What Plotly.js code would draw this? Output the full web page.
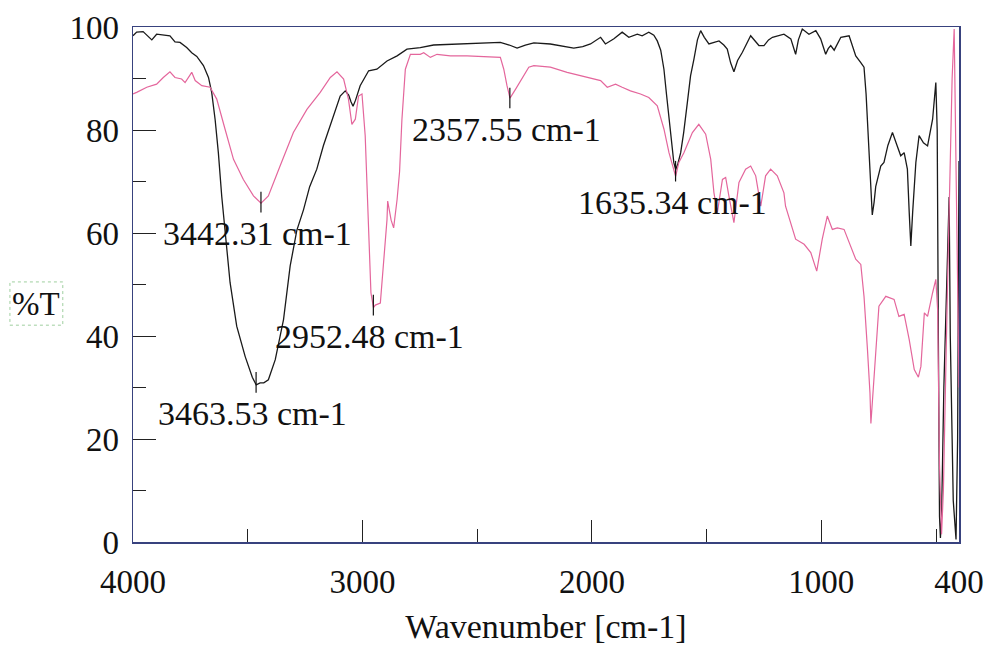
<!DOCTYPE html>
<html>
<head>
<meta charset="utf-8">
<script src="https://cdn.plot.ly/plotly-3.0.1.min.js"></script>
<style>html,body{margin:0;padding:0;background:#fff;}#chart{width:988px;height:645px;}</style>
</head>
<body>
<div id="chart"></div>
<script>
// Black spectrum (wavenumber, %T)
const blackWave = [4000,3984,3956,3918,3897,3868,3839,3817,3795,3766,3744,3722,3693,3671,3657,3642,3628,3613,3599,3577,3548,3511,3480,3463,3446,3430,3410,3380,3344,3315,3286,3257,3230,3199,3170,3140,3097,3075,3060,3050,3041,3030,3010,2973,2937,2893,2849,2806,2748,2690,2550,2399,2360,2326,2290,2253,2181,2120,2079,2040,2006,1962,1941,1904,1868,1839,1802,1781,1752,1730,1715,1700,1686,1675,1664,1650,1643,1635,1625,1613,1600,1584,1570,1555,1540,1526,1510,1490,1446,1425,1410,1395,1381,1365,1344,1308,1285,1272,1250,1230,1213,1163,1133,1120,1112,1100,1083,1054,1024,1003,981,970,959,944,915,879,850,828,814,805,799,790,784,778,770,763,741,727,710,690,670,654,639,625,617,610,602,588,574,555,537,515,501,495,490,485,481,476,466,450,443,438,425,413,406,400];
const blackT = [98.3,99.0,99.1,97.5,98.6,98.4,98.3,97.1,97.0,96.0,95.0,94.3,92.5,90.2,87.3,82.0,75.6,67.0,60.0,50.4,41.9,36.0,32.0,30.5,30.9,30.9,31.5,35.4,43.2,53.6,60.5,64.5,69.0,72.4,77.0,80.8,86.6,87.6,86.8,85.5,84.6,85.8,88.6,91.5,91.8,93.4,94.4,95.7,96.0,96.5,96.8,97.0,96.5,95.9,96.5,96.9,96.7,96.2,95.9,96.2,96.7,98.0,96.7,97.7,99.0,98.0,98.6,98.3,99.0,98.4,97.3,95.5,91.8,87.0,82.1,76.0,73.7,72.3,73.5,75.6,79.5,85.3,90.5,93.8,97.5,99.3,98.0,96.7,97.3,96.5,95.7,93.0,91.3,93.5,95.1,98.3,97.2,96.4,96.4,97.5,98.0,98.6,97.7,96.0,94.7,97.5,99.6,98.6,99.3,97.7,94.7,95.8,96.4,95.5,98.0,98.3,94.4,93.1,92.2,87.0,82.1,75.0,69.1,63.5,66.0,69.0,73.0,73.7,77.0,79.5,77.0,75.0,75.6,72.4,64.0,57.5,64.0,73.7,78.9,77.5,76.9,82.1,89.2,80.0,40.0,5.0,0.8,5.0,30.0,60.0,67.0,40.0,8.0,0.5,20.0,74.0];

// Pink spectrum (wavenumber, %T)
const pinkWave = [4000,3984,3940,3897,3868,3839,3817,3788,3773,3744,3729,3700,3664,3635,3599,3562,3519,3475,3442,3410,3359,3301,3242,3184,3140,3111,3082,3061,3046,3031,3017,3002,2988,2973,2963,2952,2944,2922,2908,2893,2890,2875,2864,2849,2838,2828,2813,2791,2748,2733,2704,2675,2617,2544,2399,2384,2370,2357,2333,2297,2275,2253,2181,2108,2021,1962,1933,1897,1868,1832,1788,1752,1715,1686,1664,1643,1635,1621,1599,1562,1534,1504,1482,1468,1453,1431,1417,1403,1381,1359,1330,1308,1286,1264,1243,1221,1192,1163,1156,1112,1075,1046,1020,996,974,952,930,901,872,850,828,814,799,788,784,778,763,749,719,683,662,639,617,595,577,566,551,537,515,501,493,485,476,468,450,430,421,412,400];
const pinkT = [87.0,87.3,88.3,88.9,90.2,91.3,90.2,89.9,89.2,91.2,89.6,88.6,88.3,86.0,80.2,74.3,70.4,67.2,65.8,67.2,73.0,79.5,84.0,87.3,90.2,91.3,89.9,86.0,81.1,82.1,86.6,87.0,78.9,62.6,48.4,45.5,46.0,46.4,53.6,62.6,66.2,62.5,61.0,66.5,72.0,82.0,91.8,94.7,94.7,95.0,94.1,94.7,94.4,94.4,94.1,91.8,88.6,86.2,87.9,90.5,92.2,92.5,92.2,91.2,90.2,89.6,88.3,88.9,88.3,87.6,87.0,86.3,84.7,80.2,75.6,72.0,71.0,73.7,75.6,79.5,81.1,79.2,74.3,67.8,64.0,70.4,70.8,67.2,62.0,69.8,72.4,73.0,71.1,65.2,71.1,72.4,71.1,67.8,65.2,58.8,57.8,56.2,52.6,58.8,63.3,60.7,61.0,60.7,57.5,54.9,53.9,47.7,37.4,28.9,23.0,27.0,36.0,45.8,47.7,47.1,43.8,44.2,39.3,33.5,32.0,34.1,44.5,43.8,48.4,51.0,45.0,15.0,1.5,10.0,50.0,90.0,99.6,70.0,30.0];

// Labelled peaks
const peakWave = [3442.31, 3463.53, 2952.48, 2357.55, 1635.34];
const peakT = [66.0, 31.0, 46.0, 86.2, 72.0];
const peakLabels = ['3442.31 cm-1', '3463.53 cm-1', '2952.48 cm-1', '2357.55 cm-1', '1635.34 cm-1'];

// Axis ticks
const xTickVals = [4000, 3000, 2000, 1000, 400];
const xTickText = ['4000', '3000', '2000', '1000', '400'];
const xMinorVals = [3500, 2500, 1500, 500];
const yTickVals = [0, 20, 40, 60, 80, 100];
const yMinorVals = [10, 30, 50, 70, 90];

const FONT = 'Liberation Serif, Times New Roman, serif';
const frame = '#38427e';

const traces = [
  {x: blackWave, y: blackT, type: 'scatter', mode: 'lines', line: {color: '#1a1a1a', width: 1.3}, hoverinfo: 'skip'},
  {x: pinkWave, y: pinkT, type: 'scatter', mode: 'lines', line: {color: '#e4669c', width: 1.2}, hoverinfo: 'skip'}
];

const shapes = peakWave.map((w, i) => ({
  type: 'line', xref: 'x', yref: 'y', x0: w, x1: w, y0: peakT[i] - 2, y1: peakT[i] + 2,
  line: {color: '#111', width: 1.2}
}));
shapes.push({type: 'rect', xref: 'paper', yref: 'paper', x0: -0.149, x1: -0.085, y0: 0.421, y1: 0.505,
  line: {color: '#9fcf9f', width: 1, dash: 'dot'}});

const annotations = peakWave.map((w, i) => ({
  x: w, y: peakT[i], xref: 'x', yref: 'y', text: peakLabels[i], showarrow: false,
  xanchor: 'left', yanchor: 'middle', xshift: -100, yshift: -31,
  font: {family: FONT, size: 34, color: '#111'}
}));
annotations.push({x: -0.117, y: 0.463, xref: 'paper', yref: 'paper', text: '%T', showarrow: false,
  xanchor: 'center', yanchor: 'middle', font: {family: FONT, size: 33, color: '#111'}});

const layout = {
  width: 988, height: 645,
  margin: {l: 133, r: 29, t: 27, b: 103},
  paper_bgcolor: '#fff', plot_bgcolor: '#fff',
  showlegend: false,
  font: {family: FONT, size: 33, color: '#111'},
  xaxis: {
    range: [4000, 400], autorange: false,
    tickmode: 'array', tickvals: xTickVals, ticktext: xTickText,
    ticks: 'inside', ticklen: 22, tickwidth: 1, tickcolor: '#222',
    minor: {tickmode: 'array', tickvals: xMinorVals, ticks: 'inside', ticklen: 13, tickwidth: 1, tickcolor: '#222', showgrid: false},
    showgrid: false, zeroline: false,
    showline: true, mirror: true, linecolor: frame, linewidth: 1.5,
    tickfont: {family: FONT, size: 33, color: '#111'},
    ticklabelstandoff: 10,
    title: {text: 'Wavenumber [cm-1]', font: {family: FONT, size: 34, color: '#111'}, standoff: 15}
  },
  yaxis: {
    range: [0, 100], autorange: false,
    tickmode: 'array', tickvals: yTickVals,
    ticks: 'inside', ticklen: 23, tickwidth: 1, tickcolor: '#222',
    minor: {tickmode: 'array', tickvals: yMinorVals, ticks: 'inside', ticklen: 13, tickwidth: 1, tickcolor: '#222', showgrid: false},
    showgrid: false, zeroline: false,
    showline: true, mirror: true, linecolor: frame, linewidth: 1.5,
    tickfont: {family: FONT, size: 33, color: '#111'},
    ticklabelstandoff: 6
  },
  shapes: shapes,
  annotations: annotations
};

Plotly.newPlot('chart', traces, layout, {staticPlot: true, displayModeBar: false});
</script>
</body>
</html>
